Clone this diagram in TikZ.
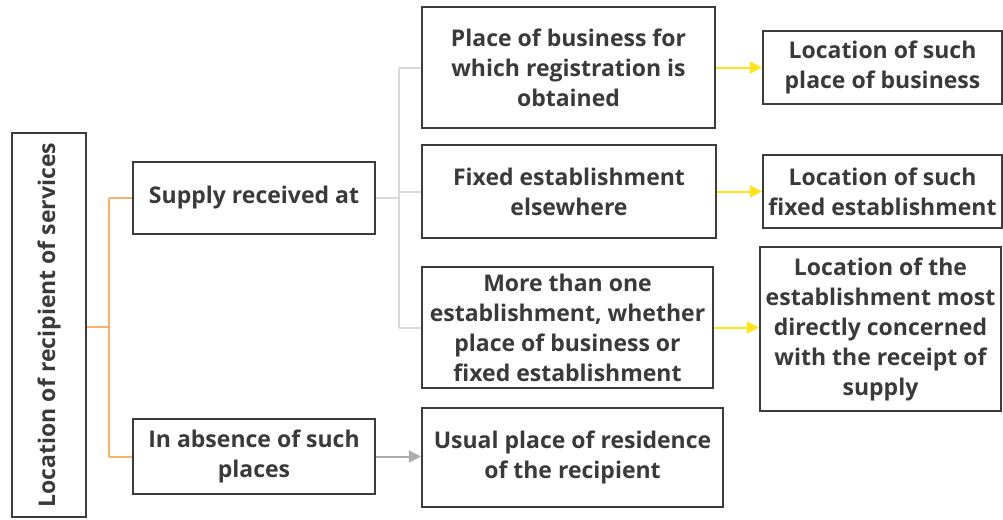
\documentclass[tikz,border=0pt]{standalone}
\usepackage{fontspec}
\setmainfont{Open Sans}
\usetikzlibrary{arrows.meta}
\definecolor{txt}{HTML}{3A3A3A}
\definecolor{bordr}{HTML}{3C3C3C}
\definecolor{orng}{HTML}{F8B26A}
\definecolor{lgray}{HTML}{D9D9D9}
\definecolor{mgray}{HTML}{ADADAD}
\definecolor{yllw}{HTML}{FFE41A}
\tikzset{
  boxfont/.style={font=\fontsize{23}{30}\selectfont\bfseries},
  box/.style={draw=bordr, line width=2.2pt, rectangle, align=center, inner sep=1pt,
    text=txt, boxfont},
  orline/.style={draw=orng, line width=2pt},
  grline/.style={draw=lgray, line width=2pt},
  yarrow/.style={draw=yllw, line width=2pt, -{Triangle[length=12pt,width=12pt]}},
  garrow/.style={draw=mgray, line width=2pt, -{Triangle[length=12pt,width=12pt]}}
}
\begin{document}
\begin{tikzpicture}[x=1pt,y=-1pt]
\useasboundingbox (0,0) rectangle (1003,519);
\node[box, minimum width=74pt, minimum height=384pt] (L) at (49,325) {};
\node[rotate=90, text=txt, boxfont] (Lt) at (L.center) {Location of recipient of services};
\node[box, minimum width=242pt, minimum height=72pt] (S) at (254,198) {Supply received at};
\node[box, minimum width=242pt, minimum height=75pt] (A) at (254,456.5) {In absence of such\\places};
\node[box, minimum width=293pt, minimum height=121pt] (P) at (568.5,67.5) {Place of business for\\which registration is\\obtained};
\node[box, minimum width=294pt, minimum height=93pt] (F) at (569,191.5) {Fixed establishment\\elsewhere};
\node[box, minimum width=291pt, minimum height=121pt] (M) at (567.5,327.5) {More than one\\establishment, whether\\place of business or\\fixed establishment};
\node[box, minimum width=301pt, minimum height=99pt] (U) at (572.5,457.5) {Usual place of residence\\of the recipient};
\node[box, minimum width=239pt, minimum height=73pt] (R1) at (882.5,67.5) {Location of such\\place of business};
\node[box, minimum width=239pt, minimum height=73pt] (R2) at (882.5,191.5) {Location of such\\fixed establishment};
\node[box, minimum width=241pt, minimum height=164pt] (R3) at (880.5,329) {Location of the\\establishment most\\directly concerned\\with the receipt of\\supply};
% orange tree
\coordinate (oj) at (109,327);
\draw[orline] (L.east |- oj) -- (oj);
\draw[orline] (oj |- S.west) -- (oj |- A.west);
\draw[orline] (oj |- S.west) -- (S.west);
\draw[orline] (oj |- A.west) -- (A.west);
% gray tree
\coordinate (gj) at (399,198);
\draw[grline] (S.east) -- (gj);
\draw[grline] (gj |- P.west) -- (gj |- M.west);
\draw[grline] (gj |- P.west) -- (P.west);
\draw[grline] (gj |- F.west) -- (F.west);
\draw[grline] (gj |- M.west) -- (M.west);
% arrows
\draw[yarrow] (P.east) -- (R1.west |- P.east);
\draw[yarrow] (F.east) -- (R2.west |- F.east);
\draw[yarrow] (M.east) -- (R3.west |- M.east);
\draw[garrow] (A.east) -- (U.west |- A.east);
\end{tikzpicture}
\end{document}
